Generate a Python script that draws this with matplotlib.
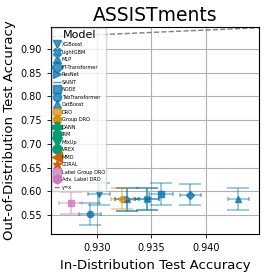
import numpy as np
import matplotlib
matplotlib.use("Agg")
import matplotlib.pyplot as plt

# models, colours and markers as in the legend
models = ["XGBoost", "LightGBM", "MLP", "FT-Transformer", "ResNet", "SAINT", "NODE",
          "TabTransformer", "CatBoost", "DRO", "Group DRO", "DANN", "IRM", "MixUp",
          "VREX", "MMD", "CORAL", "Label Group DRO", "Adv. Label DRO"]
markers = ["v", "X", "^", "D", ">", "_", "s", "o", "^", "8", "p", "P", "h", "v",
           "o", "<", "*", "s", "h"]
blue, orange, green, red, pink = "#0173b2", "#de8f05", "#029e73", "#d55e00", "#cc78bc"
colors = [blue] * 9 + [orange] * 2 + [green] * 4 + [red] * 2 + [pink] * 2

nan = np.nan
id_acc = [0.9302, 0.9346, 0.9430, 0.9386, 0.9328, 0.9346, 0.9359, 0.9294, 0.9328,
          0.9323, nan, nan, nan, nan, nan, nan, nan, 0.9276, nan]
ood_acc = [0.5935, 0.5835, 0.5835, 0.5926, 0.5829, 0.5835, 0.5935, 0.5520, 0.5829,
           0.5842, nan, nan, nan, nan, nan, nan, nan, 0.5757, nan]
id_err = [0.0010, 0.0011, 0.00095, 0.0010, 0.0011, 0.0011, 0.0011, 0.00103, 0.0011,
          0.0010, nan, nan, nan, nan, nan, nan, nan, 0.00105, nan]
ood_err = [0.023, 0.023, 0.023, 0.022, 0.024, 0.023, 0.023, 0.0235, 0.024,
           0.022, nan, nan, nan, nan, nan, nan, nan, 0.0235, nan]

fig = plt.figure(figsize=(2.66, 2.73), dpi=100)
ax = fig.add_axes([0.192, 0.143, 0.782, 0.758])

for i, name in enumerate(models):
    if np.isnan(id_acc[i]):
        ax.plot([], [], linestyle="none", marker=markers[i], color=colors[i],
                markersize=5, label=name)
        continue
    ax.errorbar(id_acc[i], ood_acc[i], yerr=ood_err[i], fmt="none",
                ecolor=colors[i], alpha=0.45, capsize=8, elinewidth=1.2, capthick=1.2)
    ax.errorbar(id_acc[i], ood_acc[i], xerr=id_err[i], fmt="none",
                ecolor=colors[i], alpha=0.45, capsize=1.5, elinewidth=1.2, capthick=1.2)
    ax.plot(id_acc[i], ood_acc[i], linestyle="none", marker=markers[i],
            color=colors[i], markersize=4.5, alpha=0.75, label=name)

xlim = (0.9258, 0.9449)
ax.plot(xlim, xlim, "--", color="gray", linewidth=1, label="y=x")
ax.set_xlim(xlim)
ax.set_ylim(0.510, 0.9464)
ax.set_xticks([0.930, 0.935, 0.940])
ax.set_yticks(np.arange(0.55, 0.91, 0.05))
ax.set_xticklabels(["0.930", "0.935", "0.940"])
ax.tick_params(labelsize=7, length=3, width=0.6)
ax.grid(True, color="#b0b0b0", linewidth=0.8)
ax.set_axisbelow(True)
for s in ax.spines.values():
    s.set_linewidth(0.8)

ax.set_title("ASSISTments", fontsize=13.5, pad=4)
ax.set_xlabel("In-Distribution Test Accuracy", fontsize=9.5, labelpad=4)
ax.set_ylabel("Out-of-Distribution Test Accuracy", fontsize=9.5, labelpad=3)

leg = ax.legend(loc="upper left", title="Model", fontsize=3.6, title_fontsize=8,
                labelspacing=0.5, handlelength=1.2, handletextpad=0.4,
                borderpad=0.3, borderaxespad=0.2, markerscale=1.3, framealpha=0.8)

fig.savefig("out.png", dpi=100)
